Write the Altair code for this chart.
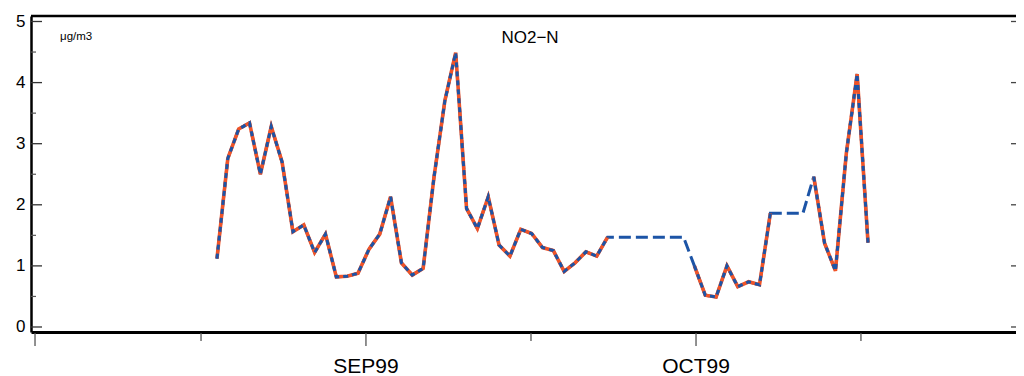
import altair as alt
import pandas as pd

# ---- data ----
day = list(range(61))
no2 = [1.12, 2.76, 3.24, 3.34, 2.50, 3.28, 2.70, 1.56, 1.67, 1.22,
       1.52, 0.82, 0.83, 0.88, 1.27, 1.52, 2.13, 1.05, 0.85, 0.96,
       2.45, 3.70, 4.49, 1.94, 1.61, 2.13, 1.34, 1.16, 1.60, 1.53,
       1.30, 1.25, 0.91, 1.05, 1.23, 1.16, 1.47, None, None, None,
       None, None, None, None, 1.00, 0.52, 0.49, 1.00, 0.66, 0.74,
       0.69, 1.86, None, None, None, 2.46, 1.37, 0.92, 2.84, 4.14, 1.38]

x_tick_pos = [-16.77, -1.47, 13.73, 28.94, 44.15, 59.35]
x_tick_major = [True, False, True, False, True, False]
x_tick_labels = ["", "", "SEP99", "", "OCT99", ""]

y_major = [0, 1, 2, 3, 4, 5]
y_minor = [0.5, 1.5, 2.5, 3.5, 4.5]

title_text = ["NO2\u2212N"]
unit_text = ["\u03bcg/m3"]

X_DOMAIN = [-17.14, 73.64]
Y_DOMAIN = [-0.082, 5.09]

W, H = 985, 316
RED = "#f05428"
BLUE = "#1c54a6"
FONT = "Liberation Sans"

# ---- tables ----
df = pd.DataFrame({"day": day, "no2": no2})
df["filled"] = df["no2"].ffill()
df["seg"] = df["no2"].isna().cumsum()
valid = df.dropna(subset=["no2"])

ticks = pd.DataFrame({"pos": x_tick_pos, "major": x_tick_major, "label": x_tick_labels})
major_t = ticks[ticks["major"]]
minor_t = ticks[~ticks["major"]]
ymaj = pd.DataFrame({"v": y_major})
ymin = pd.DataFrame({"v": y_minor})

xs = alt.Scale(domain=X_DOMAIN, nice=False, zero=False)
ys = alt.Scale(domain=Y_DOMAIN, nice=False, zero=False)

x_axis = alt.Axis(ticks=False, labels=False, grid=False, title=None,
                  domainColor="black", domainWidth=3)
y_axis = alt.Axis(values=y_major, ticks=False, grid=False, title=None,
                  labelFontSize=17, labelFont=FONT, labelColor="black",
                  labelPadding=6, labelOverlap=False,
                  domainColor="black", domainWidth=2.5)


def X(field):
    return alt.X(field, type="quantitative", scale=xs, axis=x_axis)


def Y(field):
    return alt.Y(field, type="quantitative", scale=ys, axis=y_axis)


gapline = alt.Chart(df).mark_line(color=BLUE, strokeWidth=3, strokeDash=[12, 5]).encode(
    x=X("day"), y=Y("filled"))
redline = alt.Chart(valid).mark_line(color=RED, strokeWidth=3.6).encode(
    x=X("day"), y=Y("no2"), detail="seg:N")
blueline = alt.Chart(valid).mark_line(color=BLUE, strokeWidth=3, strokeDash=[5, 4]).encode(
    x=X("day"), y=Y("no2"), detail="seg:N")

# y ticks (inward) on the left and right
ytick_major = alt.Chart(ymaj).mark_rule(color="#333", strokeWidth=1.3).encode(
    y=Y("v"), x=alt.value(0), x2=alt.value(11))
ytick_minor = alt.Chart(ymin).mark_rule(color="#555", strokeWidth=1.2).encode(
    y=Y("v"), x=alt.value(0), x2=alt.value(5))
ytick_right = alt.Chart(ymaj).mark_rule(color="#444", strokeWidth=1.3).encode(
    y=Y("v"), x=alt.value(W - 5), x2=alt.value(W))

# x ticks (outward)
xtick_major = alt.Chart(major_t).mark_rule(color="#555", strokeWidth=1.3).encode(
    x=X("pos"), y=alt.value(H + 1), y2=alt.value(H + 14))
xtick_minor = alt.Chart(minor_t).mark_rule(color="#555", strokeWidth=1.3).encode(
    x=X("pos"), y=alt.value(H + 1), y2=alt.value(H + 9))
xlabels = alt.Chart(ticks).mark_text(fontSize=21, font=FONT, color="black",
                                     align="center", baseline="alphabetic").encode(
    x=X("pos"), y=alt.value(H + 41), text="label:N")

# top frame line
topline = alt.Chart(pd.DataFrame({"a": [0]})).mark_rule(color="black", strokeWidth=2.5).encode(
    x=alt.value(0), x2=alt.value(W), y=alt.value(0))

title = alt.Chart(pd.DataFrame({"t": title_text})).mark_text(
    fontSize=17, font=FONT, color="black", align="center", baseline="alphabetic").encode(
    x=alt.value(499), y=alt.value(27), text="t:N")
unit = alt.Chart(pd.DataFrame({"t": unit_text})).mark_text(
    fontSize=11.5, font=FONT, color="black", align="left", baseline="alphabetic").encode(
    x=alt.value(29), y=alt.value(24), text="t:N")

chart = alt.layer(
    gapline, redline, blueline,
    ytick_major, ytick_minor, ytick_right,
    xtick_major, xtick_minor, xlabels,
    topline, title, unit,
).properties(
    width=W, height=H,
    background="white",
    padding={"left": 23, "top": 8, "right": 0, "bottom": 44},
    autosize=alt.AutoSizeParams(type="none"),
).configure_view(stroke=None)

chart.save("out.html", embed_options={"renderer": "svg", "actions": False})
